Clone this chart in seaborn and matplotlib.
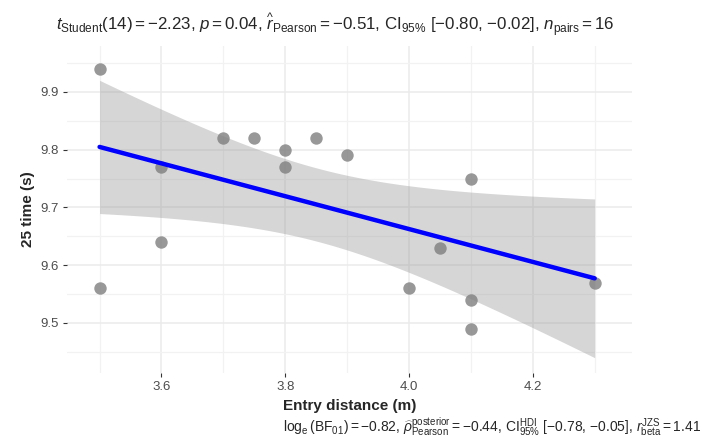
import numpy as np
import pandas as pd
import seaborn as sns
import matplotlib.pyplot as plt
from matplotlib.ticker import MultipleLocator

# Data
entry_distance = [3.5, 3.5, 3.6, 3.6, 3.7, 3.75, 3.8, 3.8, 3.85, 3.9, 4.0, 4.05, 4.1, 4.1, 4.1, 4.3]
time_25 = [9.94, 9.56, 9.77, 9.64, 9.82, 9.82, 9.80, 9.77, 9.82, 9.79, 9.56, 9.63, 9.75, 9.54, 9.49, 9.57]

title_txt = (r"$t_{\mathrm{Student}}(14) = -2.23$, $p = 0.04$, "
             r"$\widehat{r}_{\mathrm{Pearson}} = -0.51$, CI$_{95\%}$ [$-$0.80, $-$0.02], "
             r"$n_{\mathrm{pairs}} = 16$")
caption_txt = (r"$\log_{\mathrm{e}}(\mathrm{BF}_{01}) = -0.82$, "
               r"$\widehat{\rho}_{\mathrm{Pearson}}^{\mathrm{posterior}} = -0.44$, "
               r"$\mathrm{CI}_{95\%}^{\mathrm{HDI}}$ [$-$0.78, $-$0.05], "
               r"$r_{\mathrm{beta}}^{\mathrm{JZS}} = 1.41$")

df = pd.DataFrame({"x": entry_distance, "y": time_25})

sns.set_theme(style="white")
plt.rcParams['font.family'] = ['Liberation Sans', 'DejaVu Sans']
plt.rcParams['mathtext.fontset'] = 'custom'
plt.rcParams['mathtext.rm'] = 'Liberation Sans'
plt.rcParams['mathtext.it'] = 'Liberation Sans:italic'
plt.rcParams['mathtext.bf'] = 'Liberation Sans:bold'

fig, ax = plt.subplots(figsize=(7.02, 4.41), dpi=100)
fig.subplots_adjust(left=0.096, right=0.900, top=0.895, bottom=0.155)

# analytical 95% confidence band of the linear fit (like ggplot's geom_smooth)
x = np.asarray(entry_distance)
y = np.asarray(time_25)
n = len(x)
b1, b0 = np.polyfit(x, y, 1)
xs = np.linspace(x.min(), x.max(), 100)
resid = y - (b0 + b1 * x)
s = np.sqrt(np.sum(resid ** 2) / (n - 2))
se = s * np.sqrt(1 / n + (xs - x.mean()) ** 2 / np.sum((x - x.mean()) ** 2))
tcrit = 2.144787  # t(0.975, 14)
ax.fill_between(xs, b0 + b1 * xs - tcrit * se, b0 + b1 * xs + tcrit * se,
                color="#999999", alpha=0.4, linewidth=0, zorder=2)

sns.regplot(data=df, x="x", y="y", ax=ax, ci=None,
            scatter_kws=dict(s=80, color="#7f7f7f", alpha=0.8, linewidths=0, zorder=3),
            line_kws=dict(color="#0000FF", linewidth=3.2, zorder=4))

ax.set_xlim(3.448, 4.36)
ax.set_ylim(9.414, 9.979)
ax.xaxis.set_minor_locator(MultipleLocator(0.1))
ax.yaxis.set_minor_locator(MultipleLocator(0.05))
ax.set_xticks([3.6, 3.8, 4.0, 4.2])
ax.set_xticklabels(["3.6", "3.8", "4.0", "4.2"])
ax.set_yticks([9.5, 9.6, 9.7, 9.8, 9.9])
ax.set_yticklabels(["9.5", "9.6", "9.7", "9.8", "9.9"])

ax.grid(True, which="major", color="#EBEBEB", linewidth=1.1, zorder=0)
ax.grid(True, which="minor", color="#F2F2F2", linewidth=0.9, zorder=0)
ax.set_axisbelow(True)
for sp in ax.spines.values():
    sp.set_visible(False)
ax.tick_params(axis="both", which="major", length=3, width=0.8, color="#333333",
               labelcolor="#4D4D4D", labelsize=9.5, pad=3, bottom=True, left=True)
ax.tick_params(axis="both", which="minor", length=0)

ax.set_xlabel("Entry distance (m)", fontsize=11, fontweight="bold", labelpad=4)
ax.set_ylabel("25 time (s)", fontsize=11, fontweight="bold", labelpad=4)
ax.set_title(title_txt, fontsize=12.2, pad=11, loc="left", x=-0.02)
fig.text(0.998, 0.03, caption_txt, fontsize=10, ha="right", va="center")

fig.savefig("out.png", dpi=100)
